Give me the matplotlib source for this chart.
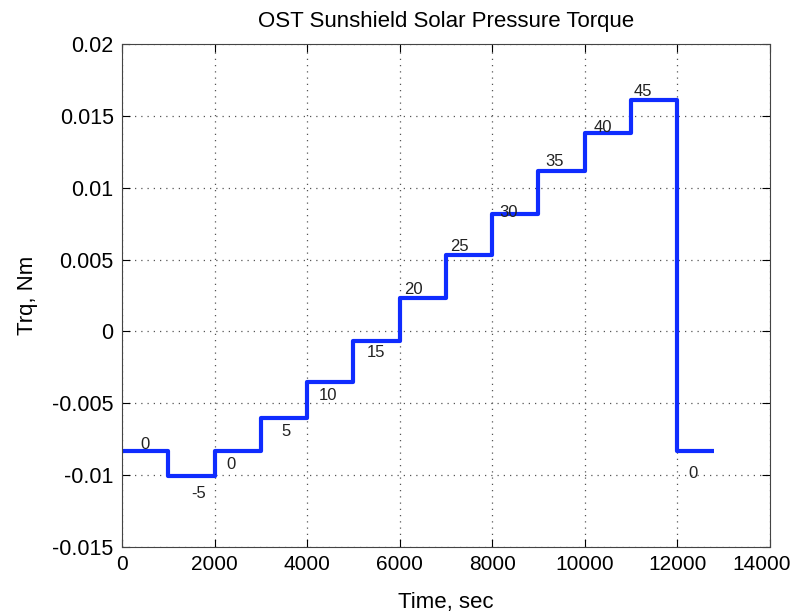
import numpy as np
import matplotlib.pyplot as plt
from matplotlib.transforms import ScaledTranslation

plt.rcParams['font.family'] = ['Liberation Sans', 'DejaVu Sans']

# step start times (s) and torque level held after each (Nm)
t_switch = [0, 1000, 2000, 3000, 4000, 5000, 6000, 7000, 8000, 9000, 10000, 11000, 12000]
torque = [-0.0083, -0.0101, -0.0083, -0.0060, -0.0035, -0.0007, 0.0023, 0.0053,
          0.0082, 0.0112, 0.0138, 0.0161, -0.0083]
t_end = 12800

# angle labels (deg) and their positions
angle_text = ['0', '-5', '0', '5', '10', '15', '20', '25', '30', '35', '40', '45', '0']
angle_x = [500, 1650, 2350, 3550, 4450, 5500, 6300, 7300, 8350, 9350, 10400, 11250, 12350]
angle_y = [-0.0079, -0.0113, -0.0093, -0.0070, -0.0045, -0.0015, 0.0029, 0.0059,
           0.0083, 0.0118, 0.0142, 0.0167, -0.0099]

fig = plt.figure(figsize=(7.92, 6.13), dpi=100)
ax = fig.add_axes([0.154, 0.108, 0.818, 0.820])

tt = t_switch + [t_end]
yy = torque + [torque[-1]]
ax.step(tt, yy, where='post', color='#0f2cff', linewidth=3,
        solid_joinstyle='round', solid_capstyle='butt')

for s, x, y in zip(angle_text, angle_x, angle_y):
    ax.text(x, y, s, fontsize=12, ha='center', va='center', color='#222222')

ax.set_xlim(0, 14000)
ax.set_ylim(-0.015, 0.02)
ax.set_xticks(np.arange(0, 14001, 2000))
ax.set_yticks(np.arange(-0.015, 0.0201, 0.005))
ax.set_yticklabels(['-0.015', '-0.01', '-0.005', '0', '0.005', '0.01', '0.015', '0.02'])
ax.grid(True, linestyle=(0, (1, 4)), color='#555555', linewidth=0.9)
ax.tick_params(direction='in', top=True, right=True, length=6, pad=6)
ax.tick_params(axis='y', labelsize=15.5)
ax.tick_params(axis='x', labelsize=15)
for sp in ax.spines.values():
    sp.set_color('#444444')

# nudge the last x tick label so it stays inside the figure
last = ax.get_xticklabels()[-1]
last.set_transform(last.get_transform() + ScaledTranslation(-8 / 100, 0, fig.dpi_scale_trans))

ax.set_title('OST Sunshield Solar Pressure Torque', fontsize=16, pad=12)
ax.set_xlabel('Time, sec', fontsize=16, labelpad=13)
ax.set_ylabel('Trq, Nm', fontsize=16, labelpad=10)

fig.savefig('out.png', dpi=100)
